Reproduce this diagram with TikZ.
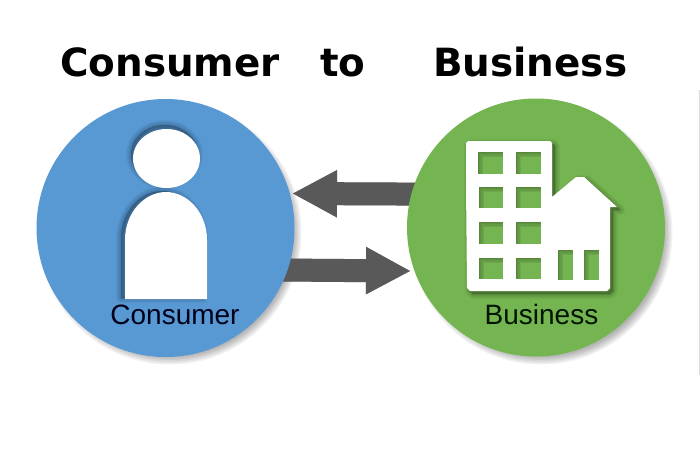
\documentclass[tikz,border=0pt]{standalone}
\usepackage{fontspec}
\setmainfont{DejaVu Sans}
\newfontfamily\labelfont{Liberation Sans}
\usetikzlibrary{arrows.meta,backgrounds}
\definecolor{consumerblue}{HTML}{5899D4}
\definecolor{businessgreen}{HTML}{75B551}
\definecolor{arrowgrey}{HTML}{595959}
\tikzset{
  hubcircle/.style={circle,minimum size=258pt,inner sep=0pt},
  titletext/.style={font=\bfseries\fontsize{38.85}{46}\selectfont,anchor=base west,inner sep=0pt,text=black},
  hublabel/.style={font=\labelfont\fontsize{28}{32}\selectfont,anchor=base,inner sep=0pt},
  bigarrow/.style={line width=23pt,draw=arrowgrey,shorten <=-12pt,-{Triangle[length=45pt,width=44pt]}},
  arrowshade/.style={line width=23pt,draw=black,opacity=.06,shorten <=-12pt,-{Triangle[length=45pt,width=44pt]}},
  softedge/.style={opacity=.04,line join=round,fill=black,draw=black},
  solidwhite/.style={fill=white}
}
% soft shadow of a closed path
\newcommand{\softshade}[3]{%
  \foreach \w in {10,8,6,4,2,0.5}{\path[softedge,line width=\w pt,shift={(#1,#2)}] #3;}}
% window hole with an inner shadow along its top and left edges
\newcommand{\windowhole}[4]{%
  \fill[businessgreen] (#1,#2) rectangle (#3,#4);
  \begin{scope}
    \clip (#1,#2) rectangle (#3,#4);
    \foreach \w in {10,7,4,2}{\draw[black!70!businessgreen,opacity=.1,line width=\w pt] (#1,#4) -- (#1,#2) -- (#3,#2);}
  \end{scope}}
\begin{document}
\begin{tikzpicture}[x=1pt,y=-1pt]
\useasboundingbox (0,0) rectangle (700,450);
\draw[black!14,line width=1pt] (699,90) -- (699,375);
\node[titletext] (title) at (60,76) {Consumer~~~to~~~~~Business};
\node[hubcircle,fill=consumerblue] (consumer) at (165.5,228) {};
\node[hubcircle,fill=businessgreen] (business) at (536,227.5) {};
\begin{pgfonlayer}{background}
  \foreach \w in {0,1.5,...,7.5}{
    \fill[black,opacity=.055] (170,233) circle ({124+\w});
    \fill[black,opacity=.055] (541,233) circle ({124+\w});
  }
  \coordinate (topstart) at (business.165.6);
  \coordinate (topend) at (292,193.5);
  \coordinate (lowstart) at (consumer.-19);
  \coordinate (lowend) at (411,271);
  \foreach \w in {1,2,3,4,5}{
    \draw[arrowshade,shift={(\w*0.7,\w*0.9)}] (topstart) -- (topend);
    \draw[arrowshade,shift={(\w*0.7,\w*0.9)}] (lowstart) -- (lowend);
  }
  \draw[bigarrow] (topstart) -- (topend);
  \draw[bigarrow] (lowstart) -- (lowend);
\end{pgfonlayer}
% person
\def\headpath{(166.5,158.5) ellipse [x radius=33.5,y radius=29.5]}
\def\bodypath{(125,299) -- (125,240) .. controls (125,212) and (145,192) .. (166,192) .. controls (187,192) and (207,212) .. (207,240) -- (207,299) -- cycle}
\begin{scope}
  \clip (165.5,228) circle (129);
  \softshade{-2}{-4}{\headpath}
  \softshade{-4}{-1}{\bodypath}
\end{scope}
\fill[solidwhite] \headpath;
\fill[solidwhite] \bodypath;
\node[hublabel,text=black!90!blue] (consumerlabel) at (175,324) {Consumer};
% building
\def\buildingpath{(468,141) -- (550,141) -- (552,143) -- (552,197) -- (576,177) -- (584,177) -- (617,207) -- (610,207) -- (610,288) -- (607,291) -- (470,291) -- (467,288) -- (466,185) -- (466,143) -- cycle}
\softshade{3}{3}{\buildingpath}
\fill[solidwhite] \buildingpath;
\windowhole{478}{152}{503}{174}
\windowhole{516}{152}{541}{174}
\windowhole{479}{187}{503}{208}
\windowhole{516}{187}{541}{208}
\windowhole{479}{222}{503}{244}
\windowhole{516}{222}{541}{244}
\windowhole{479}{258}{503}{279}
\windowhole{516}{258}{541}{279}
\windowhole{558}{250}{573}{280}
\windowhole{584}{250}{599}{280}
\node[hublabel,text=black!92!green] (businesslabel) at (541.5,324) {Business};
\end{tikzpicture}
\end{document}
